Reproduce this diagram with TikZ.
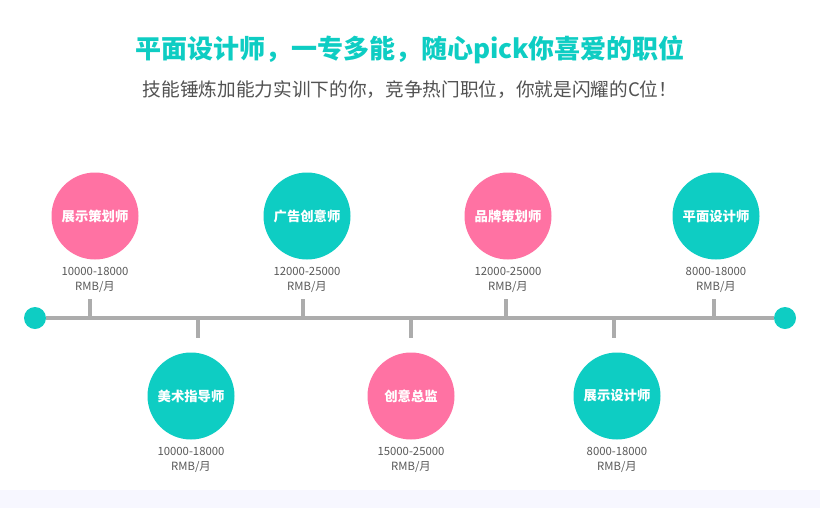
\documentclass[tikz,border=0pt]{standalone}
\usepackage{fontspec}
\setmainfont{Noto Sans CJK SC}
\begin{document}
\begin{tikzpicture}[x=0.75pt,y=-0.75pt,
  pinkc/.style={circle,fill=cpink,minimum size=87*0.75pt,inner sep=0pt,text=white,font=\fontsize{10}{12}\selectfont\bfseries},
  tealc/.style={pinkc,fill=cteal},
  lab/.style={align=center,text=black!65,font=\fontsize{8.5}{11}\selectfont},
  tick/.style={draw=cgray,line width=3pt},
  dot/.style={circle,fill=cteal,minimum size=22*0.75pt,inner sep=0pt}]
\definecolor{cpink}{RGB}{255,114,163}
\definecolor{cteal}{RGB}{14,205,195}
\definecolor{cgray}{RGB}{172,172,172}
\useasboundingbox (0,0) rectangle (820,508);
\fill[white] (0,0) rectangle (820,508);
\fill[blue!3] (0,490) rectangle (820,508);
\node (title) at (410,50) {\fontsize{19.5}{22}\selectfont\bfseries\color{cteal}平面设计师，一专多能，随心pick你喜爱的职位};
\node (sub) at (410,90) {\fontsize{14}{16}\selectfont\color{black!68}技能锤炼加能力实训下的你，竞争热门职位，你就是闪耀的C位！};
\node[dot] (L) at (35,318) {};
\node[dot] (R) at (785,318) {};
\draw[cgray,line width=3pt] (L) -- (R);
\foreach \x in {90,303,506,714} \draw[tick] (\x,318) -- (\x,299);
\foreach \x in {198,411,614} \draw[tick] (\x,318) -- (\x,338);
\node[pinkc] (a) at (95,216) {展示策划师};
\node[tealc] (b) at (307,216) {广告创意师};
\node[pinkc] (c) at (508,216) {品牌策划师};
\node[tealc] (d) at (716,216) {平面设计师};
\node[tealc] (e) at (191,396) {美术指导师};
\node[pinkc] (f) at (411,396) {创意总监};
\node[tealc] (g) at (617,396) {展示设计师};
\node[lab] at (95,280) {10000-18000\\RMB/月};
\node[lab] at (307,280) {12000-25000\\RMB/月};
\node[lab] at (508,280) {12000-25000\\RMB/月};
\node[lab] at (716,280) {8000-18000\\RMB/月};
\node[lab] at (191,460) {10000-18000\\RMB/月};
\node[lab] at (411,460) {15000-25000\\RMB/月};
\node[lab] at (617,460) {8000-18000\\RMB/月};
\end{tikzpicture}
\end{document}
